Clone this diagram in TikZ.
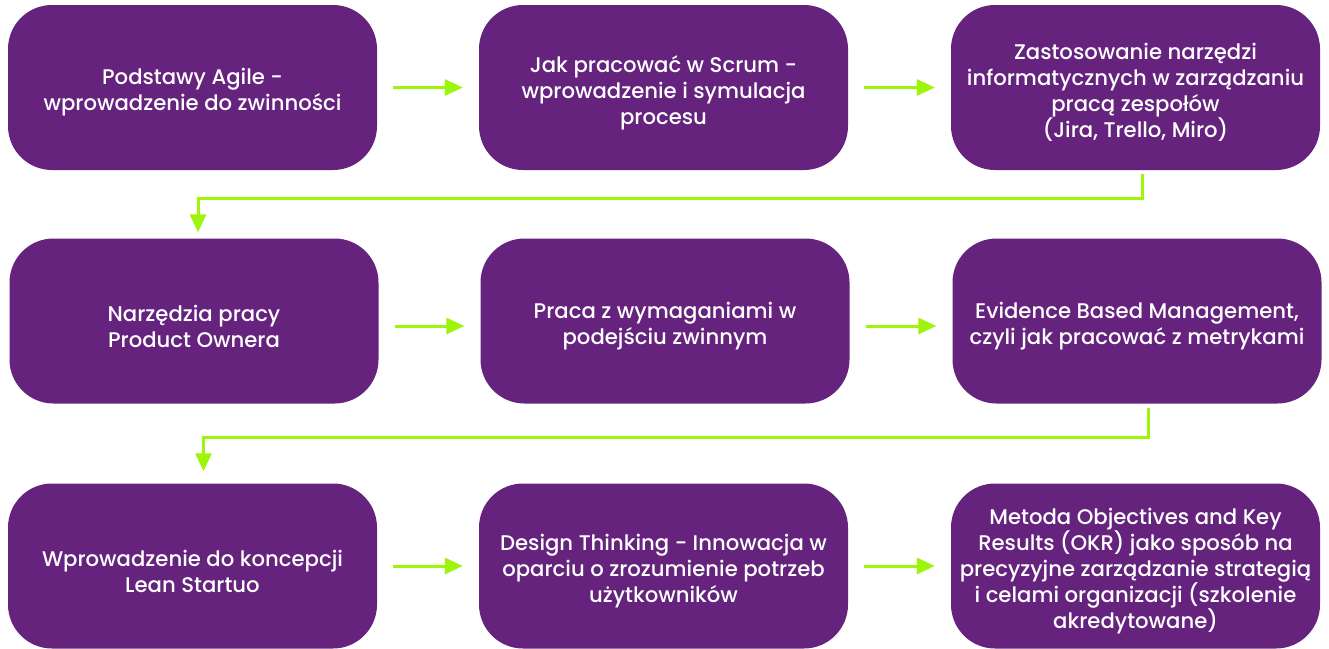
\documentclass[tikz,border=0pt]{standalone}
\usepackage{fontspec}
\setmainfont{Poppins}[UprightFont=* Medium]
\usetikzlibrary{arrows.meta}
\definecolor{boxpurple}{HTML}{65237E}
\definecolor{arrowgreen}{HTML}{9CF50A}
\begin{document}
\begin{tikzpicture}[x=1pt,y=-1pt,
  stepbox/.style={fill=boxpurple, draw=none, rounded corners=44pt,
    minimum width=369pt, minimum height=165pt, inner sep=0pt},
  steptext/.style={text=white, align=center,
    font=\fontsize{21.2}{26}\selectfont, inner sep=0pt},
  conn/.style={draw=arrowgreen, line width=3pt,
    -{Triangle[length=18pt,width=16pt]}},
  hconn/.style={conn, shorten <=16pt, shorten >=16pt}]
\useasboundingbox[fill=white] (0,0) rectangle (1329,648);
\node[stepbox] (b1) at (192.5,87.5) {};
\node[stepbox] (b2) at (663.5,87.5) {};
\node[stepbox] (b3) at (1135.5,87.5) {};
\node[stepbox] (b4) at (194,321) {};
\node[stepbox] (b5) at (665,321) {};
\node[stepbox] (b6) at (1137,321) {};
\node[stepbox] (b7) at (192.5,566) {};
\node[stepbox] (b8) at (663.5,566) {};
\node[stepbox] (b9) at (1135.5,566) {};
\node[steptext] (t1) at ([yshift=-5pt]b1.center) {Podstawy Agile -\\wprowadzenie do zwinności};
\node[steptext] (t2) at ([yshift=-5pt]b2.center) {Jak pracować w Scrum -\\wprowadzenie i symulacja\\procesu};
\node[steptext] (t3) at ([yshift=-5pt]b3.center) {Zastosowanie narzędzi\\informatycznych w zarządzaniu\\pracą zespołów\\(Jira, Trello, Miro)};
\node[steptext] (t4) at ([yshift=-5pt]b4.center) {Narzędzia pracy\\Product Ownera};
\node[steptext] (t5) at ([yshift=-5pt]b5.center) {Praca z wymaganiami w\\podejściu zwinnym};
\node[steptext] (t6) at ([yshift=-5pt]b6.center) {Evidence Based Management,\\czyli jak pracować z metrykami};
\node[steptext] (t7) at ([yshift=-5pt]b7.center) {Wprowadzenie do koncepcji\\Lean Startuo};
\node[steptext] (t8) at ([yshift=-5pt]b8.center) {Design Thinking - Innowacja w\\oparciu o zrozumienie potrzeb\\użytkowników};
\node[steptext] (t9) at ([yshift=-5pt]b9.center) {Metoda Objectives and Key\\Results (OKR) jako sposób na\\precyzyjne zarządzanie strategią\\i celami organizacji (szkolenie\\akredytowane)};
\draw[hconn] (b1) -- (b2);
\draw[hconn] (b2) -- (b3);
\draw[hconn] ([yshift=-5pt]b4.east) -- ([yshift=-5pt]b5.west);
\draw[hconn] ([yshift=-5pt]b5.east) -- ([yshift=-5pt]b6.west);
\draw[hconn] (b7) -- (b8);
\draw[hconn] (b8) -- (b9);
\draw[conn] ([xshift=6.5pt,yshift=-4pt]b3.south) |- ++(0,24) -| ([xshift=4pt,yshift=6pt]b4.north);
\draw[conn] ([xshift=11pt,yshift=-4pt]b6.south) |- ++(0,30) -| ([xshift=11pt,yshift=12pt]b7.north);
\end{tikzpicture}
\end{document}
